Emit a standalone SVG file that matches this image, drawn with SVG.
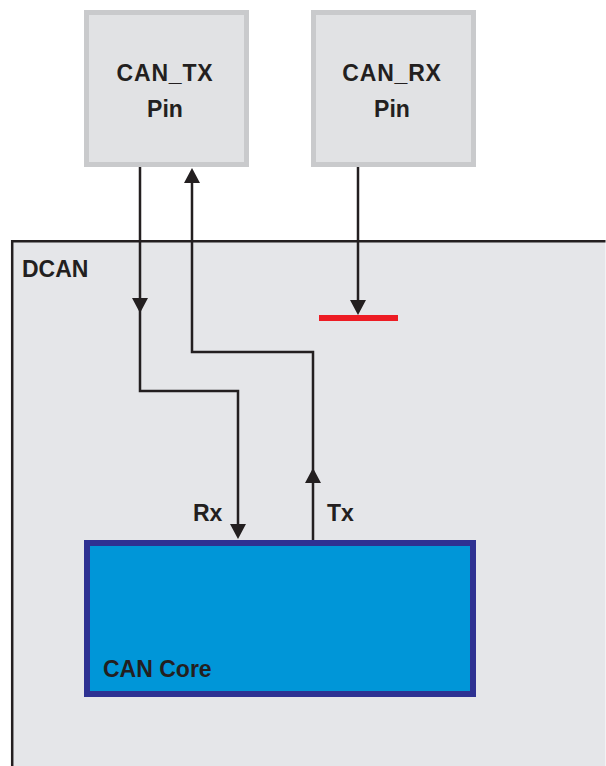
<svg xmlns="http://www.w3.org/2000/svg" width="606" height="766" viewBox="0 0 606 766">
<style>
.t{font-family:"Liberation Sans",Arial,sans-serif;font-weight:bold;font-size:23px;fill:#231f20}
.pin{fill:#e1e2e4;stroke:#c9cacc;stroke-width:5}
.w{fill:none;stroke:#231f20;stroke-width:2.5}
.ah{fill:#231f20}
</style>
<defs>
<path id="down" d="M-8,-15 L8,-15 L0,0 Z"/>
<path id="up" d="M-8,15 L8,15 L0,0 Z"/>
</defs>
<rect width="606" height="766" fill="#ffffff"/>
<g id="dcan">
<rect x="11" y="240" width="594.5" height="526" fill="#e5e6e9"/>
<path d="M12.2,766 V241.2 H605.5" fill="none" stroke="#231f20" stroke-width="2.5"/>
<text class="t" x="22" y="277">DCAN</text>
</g>
<g id="can_tx_pin">
<rect class="pin" x="86.5" y="12.5" width="160" height="152"/>
<text class="t" x="165" y="81" text-anchor="middle" letter-spacing="0.8">CAN_TX</text>
<text class="t" x="165" y="117" text-anchor="middle">Pin</text>
</g>
<g id="can_rx_pin">
<rect class="pin" x="313.5" y="12.5" width="160" height="152"/>
<text class="t" x="392" y="81" text-anchor="middle" letter-spacing="0.8">CAN_RX</text>
<text class="t" x="392" y="117" text-anchor="middle">Pin</text>
</g>
<g id="can_core">
<rect x="87" y="543" width="386" height="151" fill="#0096d8" stroke="#2e3192" stroke-width="6"/>
<text class="t" x="103" y="677">CAN Core</text>
</g>
<g id="red_bar">
<rect x="319" y="315" width="79" height="6" fill="#ed1c24"/>
</g>
<g id="connectors">
<path class="w" d="M140,167 V391 H238 V526"/>
<path class="w" d="M313,540 V352 H192 V176"/>
<path class="w" d="M358,167 V305"/>
<use class="ah" href="#down" x="140" y="313"/>
<use class="ah" href="#down" x="238" y="539"/>
<use class="ah" href="#down" x="358" y="315"/>
<use class="ah" href="#up" x="313" y="468"/>
<use class="ah" href="#up" x="192" y="168"/>
<text class="t" x="193" y="521">Rx</text>
<text class="t" x="327" y="521">Tx</text>
</g>
</svg>
